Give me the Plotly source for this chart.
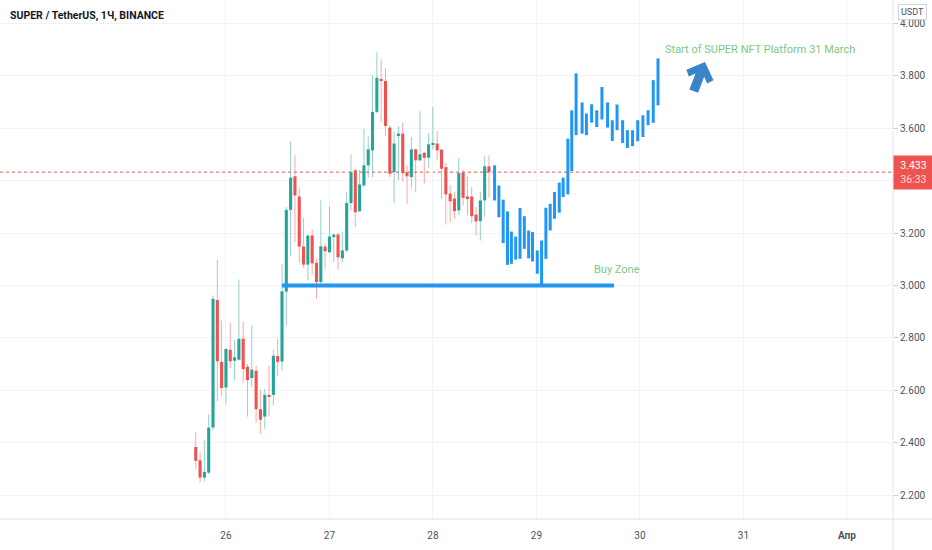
import math
import numpy as np
import plotly.graph_objects as go

# ---------------- data ----------------
# hourly candles, x = hours since 26 March 00:00 (first candle 25 Mar 17:00)
candle_hours = list(range(-7, 62))
opens = [2.384, 2.333, 2.267, 2.286, 2.458, 2.945, 2.709, 2.611, 2.755, 2.713,
         2.717, 2.797, 2.690, 2.647, 2.675, 2.528, 2.500, 2.583, 2.583, 2.731,
         2.710, 2.977, 3.289, 3.417, 3.340, 3.149, 3.080, 3.191, 3.087, 3.013,
         3.149, 3.127, 3.185, 3.195, 3.104, 3.134, 3.315, 3.440, 3.284, 3.382,
         3.459, 3.516, 3.663, 3.788, 3.781, 3.603, 3.433, 3.574, 3.580, 3.433,
         3.414, 3.520, 3.478, 3.507, 3.488, 3.538, 3.542, 3.519, 3.452, 3.351,
         3.332, 3.287, 3.432, 3.340, 3.340, 3.271, 3.246, 3.325, 3.455]
highs = [2.442, 2.363, 2.410, 2.509, 2.962, 3.099, 2.866, 2.762, 2.857, 2.792,
         3.023, 2.862, 2.701, 2.847, 2.694, 2.601, 2.606, 2.694, 2.755, 2.796,
         3.080, 3.300, 3.551, 3.497, 3.374, 3.259, 3.195, 3.214, 3.102, 3.325,
         3.162, 3.302, 3.198, 3.200, 3.204, 3.357, 3.501, 3.446, 3.442, 3.599,
         3.570, 3.803, 3.890, 3.864, 3.829, 3.612, 3.586, 3.608, 3.621, 3.459,
         3.567, 3.523, 3.665, 3.510, 3.580, 3.682, 3.590, 3.519, 3.468, 3.382,
         3.357, 3.488, 3.442, 3.417, 3.376, 3.300, 3.359, 3.493, 3.497]
lows = [2.300, 2.248, 2.254, 2.280, 2.448, 2.558, 2.577, 2.550, 2.684, 2.639,
        2.713, 2.630, 2.500, 2.611, 2.477, 2.435, 2.454, 2.500, 2.544, 2.653,
        2.675, 2.847, 3.111, 3.166, 3.087, 3.068, 3.019, 3.042, 2.949, 3.006,
        3.064, 3.124, 3.089, 3.060, 3.089, 3.127, 3.287, 3.223, 3.280, 3.376,
        3.414, 3.414, 3.657, 3.624, 3.571, 3.414, 3.315, 3.402, 3.398, 3.312,
        3.370, 3.357, 3.475, 3.391, 3.450, 3.519, 3.478, 3.332, 3.233, 3.242,
        3.255, 3.268, 3.306, 3.268, 3.238, 3.191, 3.172, 3.264, 3.338]
closes = [2.331, 2.267, 2.289, 2.458, 2.949, 2.711, 2.609, 2.758, 2.711, 2.726,
          2.797, 2.681, 2.639, 2.679, 2.528, 2.488, 2.583, 2.576, 2.732, 2.709,
          2.978, 3.289, 3.412, 3.344, 3.149, 3.080, 3.191, 3.085, 3.013, 3.150,
          3.131, 3.187, 3.195, 3.108, 3.134, 3.315, 3.433, 3.280, 3.386, 3.459,
          3.520, 3.663, 3.793, 3.781, 3.609, 3.427, 3.542, 3.580, 3.429, 3.417,
          3.520, 3.478, 3.501, 3.488, 3.539, 3.544, 3.516, 3.446, 3.348, 3.322,
          3.284, 3.429, 3.335, 3.334, 3.265, 3.245, 3.325, 3.455, 3.433]

# projected "bars pattern" drawing (blue high-low bars)
proj_hours = [62.3, 63.3, 64.3, 65.3, 66.2, 67.2, 68.2, 69.2, 70.2, 71.1,
              72.2, 73.2, 74.2, 75.2, 76.2, 77.3, 78.2, 79.3, 80.2, 81.2,
              82.6, 83.6, 84.8, 86.0, 87.2, 88.5, 89.6, 90.7, 92.0, 93.1,
              94.3, 95.5, 96.7, 97.9, 99.1, 100.2]
proj_highs = [3.459, 3.382, 3.328, 3.283, 3.206, 3.187, 3.296, 3.265, 3.210, 3.204,
              3.134, 3.172, 3.297, 3.312, 3.357, 3.393, 3.412, 3.561, 3.669, 3.810,
              3.699, 3.657, 3.692, 3.669, 3.758, 3.699, 3.631, 3.691, 3.631, 3.593,
              3.593, 3.631, 3.650, 3.669, 3.784, 3.867]
proj_lows = [3.325, 3.261, 3.162, 3.079, 3.083, 3.099, 3.102, 3.140, 3.104, 3.092,
             3.045, 3.000, 3.102, 3.210, 3.255, 3.278, 3.338, 3.348, 3.437, 3.574,
             3.580, 3.574, 3.622, 3.605, 3.634, 3.603, 3.552, 3.593, 3.544, 3.525,
             3.532, 3.551, 3.567, 3.612, 3.621, 3.688]

buy_zone_price = 3.0
buy_zone_hours = [13, 90]

# arrow drawing anchor (tip) in (hours, price)
arrow_tip = (111.0, 3.850)

y_ticks = [2.2, 2.4, 2.6, 2.8, 3.0, 3.2, 3.4, 3.6, 3.8, 4.0]
y_tick_labels = ["2.200", "2.400", "2.600", "2.800", "3.000", "3.200", "",
                 "3.600", "3.800", "4.000"]
x_tick_hours = [0, 24, 48, 72, 96, 120, 144]
x_tick_labels = ["26", "27", "28", "29", "30", "31", "<b>Апр</b>"]

title_text = "SUPER / TetherUS, 1Ч, BINANCE"
buy_zone_text = "Buy Zone"
event_text = "Start of SUPER NFT Platform 31 March"
timer_text = "36:33"

# ---------------- styles ----------------
UP = "#26a69a"
DOWN = "#ef5350"
UP_WICK = "rgba(38,166,154,0.5)"
DOWN_WICK = "rgba(239,83,80,0.5)"
BLUE = "#2196f3"
ARROW = "#3a84c9"
GRID = "#f0f3fa"
AXIS = "#e0e3eb"
TXT = "#4c525e"
FONT = "Roboto"

fig = go.Figure()

# wicks
for up in (True, False):
    wx, wy = [], []
    for h, o, hi, lo, c in zip(candle_hours, opens, highs, lows, closes):
        if (c >= o) == up:
            wx += [h, h, None]
            wy += [lo, hi, None]
    fig.add_trace(go.Scatter(x=wx, y=wy, mode="lines",
                             line=dict(color=UP_WICK if up else DOWN_WICK, width=1),
                             hoverinfo="skip", showlegend=False))

# bodies
body_base = [min(o, c) for o, c in zip(opens, closes)]
body_len = [max(abs(c - o), 0.005) for o, c in zip(opens, closes)]
body_col = [UP if c >= o else DOWN for o, c in zip(opens, closes)]
fig.add_trace(go.Bar(x=candle_hours, y=body_len, base=body_base, width=0.72,
                     marker=dict(color=body_col, line=dict(width=0)),
                     hoverinfo="skip", showlegend=False))

# buy zone line
fig.add_trace(go.Scatter(x=buy_zone_hours, y=[buy_zone_price] * 2, mode="lines",
                         line=dict(color=BLUE, width=4), hoverinfo="skip",
                         showlegend=False))

# projected blue bars
px_, py_ = [], []
for h, hi, lo in zip(proj_hours, proj_highs, proj_lows):
    px_ += [h, h, None]
    py_ += [lo, hi, None]
fig.add_trace(go.Scatter(x=px_, y=py_, mode="lines",
                         line=dict(color=BLUE, width=3), hoverinfo="skip",
                         showlegend=False))

last_price = closes[-1]

fig.add_shape(type="line", xref="paper", x0=0, x1=1, y0=last_price, y1=last_price,
              line=dict(color=DOWN, width=1, dash="dot"), layer="below")
# pane borders extending to the window edges
fig.add_shape(type="line", xref="paper", yref="paper", x0=1, x1=1, y0=-0.07, y1=1,
              line=dict(color=AXIS, width=1))
fig.add_shape(type="line", xref="paper", yref="paper", x0=0, x1=1.05, y0=0, y1=0,
              line=dict(color=AXIS, width=1))

# arrow icon (pixel-sized path anchored at the tip, rotated to point up-right)
icon = [(0, 0), (13.5, 13), (9.8, 17.3), (3.9, 11.3), (3.9, 29.5), (-3.9, 29.5),
        (-3.9, 11.3), (-9.8, 17.3), (-13.5, 13)]
theta = math.radians(21)
pts = []
for lx, ly in icon:
    rx = lx * math.cos(theta) - ly * math.sin(theta)
    ry = lx * math.sin(theta) + ly * math.cos(theta)
    pts.append((rx, -ry))
path = "M " + " L ".join(f"{x:.2f},{y:.2f}" for x, y in pts) + " Z"
fig.add_shape(type="path", xref="x", yref="y", xsizemode="pixel", ysizemode="pixel",
              xanchor=arrow_tip[0], yanchor=arrow_tip[1], path=path,
              fillcolor=ARROW, line=dict(color=ARROW, width=1.5))

fig.update_layout(
    width=932, height=550,
    margin=dict(l=0, r=39, t=0, b=31),
    paper_bgcolor="white", plot_bgcolor="white",
    barmode="overlay",
    showlegend=False,
    font=dict(family=FONT, color=TXT),
    xaxis=dict(range=[-52.4, 154.7], tickvals=x_tick_hours, ticktext=x_tick_labels,
               showgrid=True, gridcolor=GRID, gridwidth=1, zeroline=False,
               showline=False, ticks="", tickfont=dict(size=10, color=TXT, family=FONT),
               ticklabelstandoff=9, fixedrange=True),
    yaxis=dict(range=[2.109, 4.090], side="right", tickvals=y_ticks,
               ticktext=y_tick_labels, showgrid=True, gridcolor=GRID, gridwidth=1,
               zeroline=False, showline=False,
               ticks="outside", ticklen=4, tickcolor="#c8cbd3",
               tickfont=dict(size=10, color=TXT, family=FONT), fixedrange=True),
)

annotations = [
    dict(xref="paper", yref="paper", x=0.009, y=0.971, xanchor="left", yanchor="middle",
         text="<b>" + title_text + "</b>", showarrow=False,
         font=dict(size=10.5, color="#131722", family="Liberation Sans Narrow, Roboto")),
    dict(xref="x", yref="y", x=85.0, y=3.061, xanchor="left", yanchor="middle",
         text=buy_zone_text, showarrow=False,
         font=dict(size=11, color="#81c784", family=FONT)),
    dict(xref="x", yref="y", x=101.3, y=3.902, xanchor="left", yanchor="middle",
         text=event_text, showarrow=False,
         font=dict(size=11, color="#81c784", family=FONT)),
    dict(xref="paper", yref="y", x=1.0, y=last_price, xanchor="left", yanchor="middle",
         text=f"{last_price:.3f}<br><span style='color:rgba(255,255,255,0.8)'>{timer_text}</span>",
         showarrow=False, bgcolor=DOWN, width=37, height=31, borderpad=1,
         font=dict(size=10.5, color="white", family=FONT), align="center"),
    dict(xref="paper", yref="paper", x=1.0213, y=0.976, xanchor="center", yanchor="middle",
         text="USDT", showarrow=False, bgcolor="white", bordercolor="#d1d4dc",
         borderwidth=1, borderpad=2, font=dict(size=9, color=TXT, family=FONT)),
]
fig.update_layout(annotations=annotations)

fig.write_html("out.html")
